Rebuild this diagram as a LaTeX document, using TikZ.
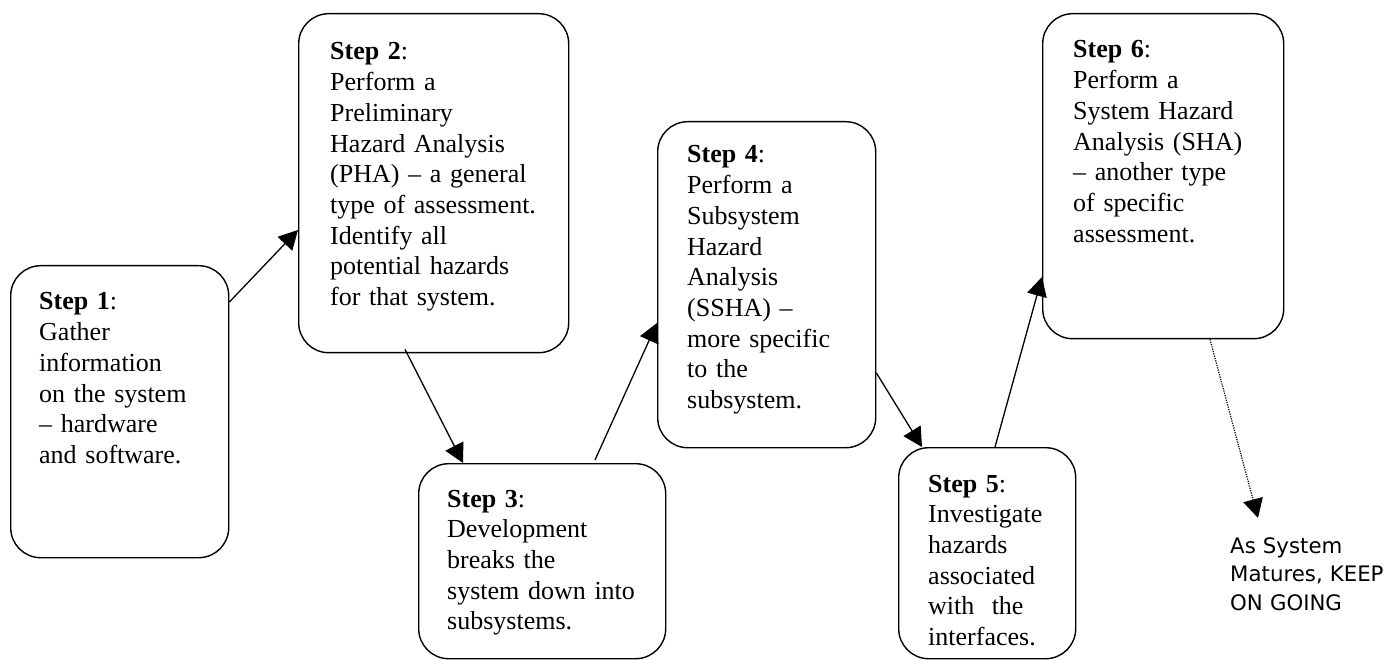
\documentclass[tikz,border=0pt]{standalone}
\usepackage{fontspec}
\setmainfont{Liberation Serif}
\newfontfamily\sansf{DejaVu Sans}
\usetikzlibrary{arrows.meta,calc}
\begin{document}
\begin{tikzpicture}[x=1pt,y=-1pt,
  stepbox/.style={draw, line width=1.4pt, rounded corners=30pt, anchor=north west, inner sep=0pt},
  steptext/.style={anchor=base west, inner sep=0pt, align=left, font=\fontsize{26}{30.7}\selectfont},
  flow/.style={line width=1.3pt, -{Triangle[length=19pt,width=20pt]}},
  dotflow/.style={line width=1.2pt, dash pattern=on 1.2pt off 1.2pt, -{Triangle[length=19pt,width=20pt]}},
]
\useasboundingbox (0,0) rectangle (1385,660);

\node[stepbox, minimum width=218pt, minimum height=292pt] (b1) at (10,265) {};
\node[stepbox, minimum width=270pt, minimum height=339pt] (b2) at (298,13) {};
\node[stepbox, minimum width=247pt, minimum height=195pt] (b3) at (418,463) {};
\node[stepbox, minimum width=218pt, minimum height=326pt] (b4) at (657,121) {};
\node[stepbox, minimum width=177pt, minimum height=211pt] (b5) at (898,447) {};
\node[stepbox, minimum width=241pt, minimum height=325pt] (b6) at (1042,13) {};

\node[steptext, text width=190pt] (t1) at ($(b1.north west)+(29,45)$)
  {\textbf{Step 1}:\\Gather\\information\\on the system\\– hardware\\and software.};
\node[steptext, text width=235pt] (t2) at ($(b2.north west)+(32,47)$)
  {\textbf{Step 2}:\\Perform a\\Preliminary\\Hazard Analysis\\(PHA) – a general\\type of assessment.\\Identify all\\potential hazards\\for that system.};
\node[steptext, text width=215pt] (t3) at ($(b3.north west)+(29,44)$)
  {\textbf{Step 3}:\\Development\\breaks the\\system down into\\subsystems.};
\node[steptext, text width=185pt] (t4) at ($(b4.north west)+(30,42)$)
  {\textbf{Step 4}:\\Perform a\\Subsystem\\Hazard\\Analysis\\(SSHA) –\\more specific\\to the\\subsystem.};
\node[steptext, text width=145pt] (t5) at ($(b5.north west)+(30,45)$)
  {\textbf{Step 5}:\\Investigate\\hazards\\associated\\with\ \ the\\interfaces.};
\node[steptext, text width=210pt] (t6) at ($(b6.north west)+(31,45)$)
  {\textbf{Step 6}:\\Perform a\\System Hazard\\Analysis (SHA)\\– another type\\of specific\\assessment.};

\node[anchor=base west, inner sep=0pt, align=left, text width=160pt,
      font=\sansf\fontsize{21.3}{28.5}\selectfont] (k) at (1230,553)
  {As System\\Matures, KEEP\\ON GOING};

\coordinate (e) at (1258,518);

\draw[flow] ($(b1.north east)+(0,37)$) -- ($(b2.north west)+(0,217)$);
\draw[flow] ($(b2.south west)+(107,-4)$) -- ($(b3.north west)+(45,0)$);
\draw[flow] ($(b3.north west)+(177,-3)$) -- ($(b4.north west)+(0,202)$);
\draw[flow] ($(b4.north east)+(0,252)$) -- ($(b5.north west)+(24,0)$);
\draw[flow] ($(b5.north west)+(97,0)$) -- ($(b6.north west)+(0,264)$);
\draw[dotflow] ($(b6.south west)+(168,0)$) -- (e);
\end{tikzpicture}
\end{document}
